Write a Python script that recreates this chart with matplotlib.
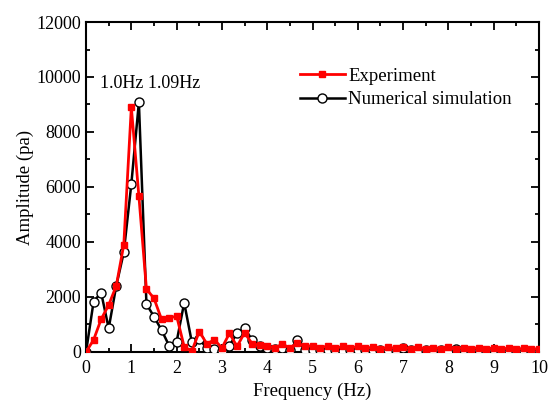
import numpy as np
import matplotlib
matplotlib.use('Agg')
from matplotlib import pyplot as plt
from matplotlib.ticker import MultipleLocator

# frequency bins, 1/6 Hz apart, 0-10 Hz
freq = np.linspace(0, 10, 61)

# amplitude (pa)
experiment = [0, 440, 1190, 1710, 2400, 3900, 8900, 5670, 2290, 1950,
              1190, 1225, 1310, 190, 30, 740, 300, 440, 150, 680,
              200, 700, 300, 250, 200, 150, 280, 150, 320, 200,
              230, 150, 220, 140, 200, 150, 200, 130, 180, 120,
              170, 130, 180, 120, 170, 110, 160, 120, 170, 110,
              150, 110, 160, 100, 150, 110, 140, 100, 130, 100, 120]
simulation = [0, 1830, 2160, 860, 2400, 3625, 6110, 9080, 1745, 1285,
              800, 230, 375, 1790, 375, 480, 130, 100, 20, 230,
              680, 860, 440, 200, 150, 100, 130, 80, 420, 90,
              80, 60, 70, 60, 50, 60, 90, 60, 80, 60,
              70, 60, 150, 60, 80, 60, 70, 60, 50, 100,
              60, 50, 60, 50, 60, 40, 50, 40, 50, 40, 30]

plt.rcParams['font.family'] = ['Liberation Serif', 'DejaVu Serif']

fig = plt.figure(figsize=(5.48, 4.03), dpi=100)
ax = fig.add_axes([0.157, 0.1266, 0.8266, 0.8188])

ax.plot(freq, simulation, color='black', lw=1.8, marker='o', ms=6.5,
        mec='black', mfc='white', mew=1.0, label='Numerical simulation', zorder=3)
ax.plot(freq, experiment, color='red', lw=2.0, marker='s', ms=5,
        mec='red', mfc='red', label='Experiment', zorder=4)

ax.text(1.42, 9750, '1.0Hz 1.09Hz', ha='center', va='center', fontsize=13)

ax.set_xlim(0, 10)
ax.set_ylim(0, 12000)
ax.xaxis.set_major_locator(MultipleLocator(1))
ax.xaxis.set_minor_locator(MultipleLocator(0.5))
ax.yaxis.set_major_locator(MultipleLocator(2000))
ax.yaxis.set_minor_locator(MultipleLocator(1000))
ax.tick_params(which='both', direction='in', top=True, right=True,
               labelsize=13, width=1.3)
ax.tick_params(which='major', length=6)
ax.tick_params(which='minor', length=3)
ax.tick_params(axis='x', pad=6)
for sp in ax.spines.values():
    sp.set_linewidth(1.5)

ax.set_xlabel('Frequency (Hz)', fontsize=13.5, labelpad=4)
ax.set_ylabel('Amplitude (pa)', fontsize=13.5, labelpad=2)

handles, labels = ax.get_legend_handles_labels()
ax.legend(handles[::-1], labels[::-1], loc='upper left',
          bbox_to_anchor=(0.455, 0.885), frameon=False,
          fontsize=13.5, handlelength=2.4, handletextpad=0.2,
          borderaxespad=0, labelspacing=0.35)

plt.savefig('out.png', dpi=100)
